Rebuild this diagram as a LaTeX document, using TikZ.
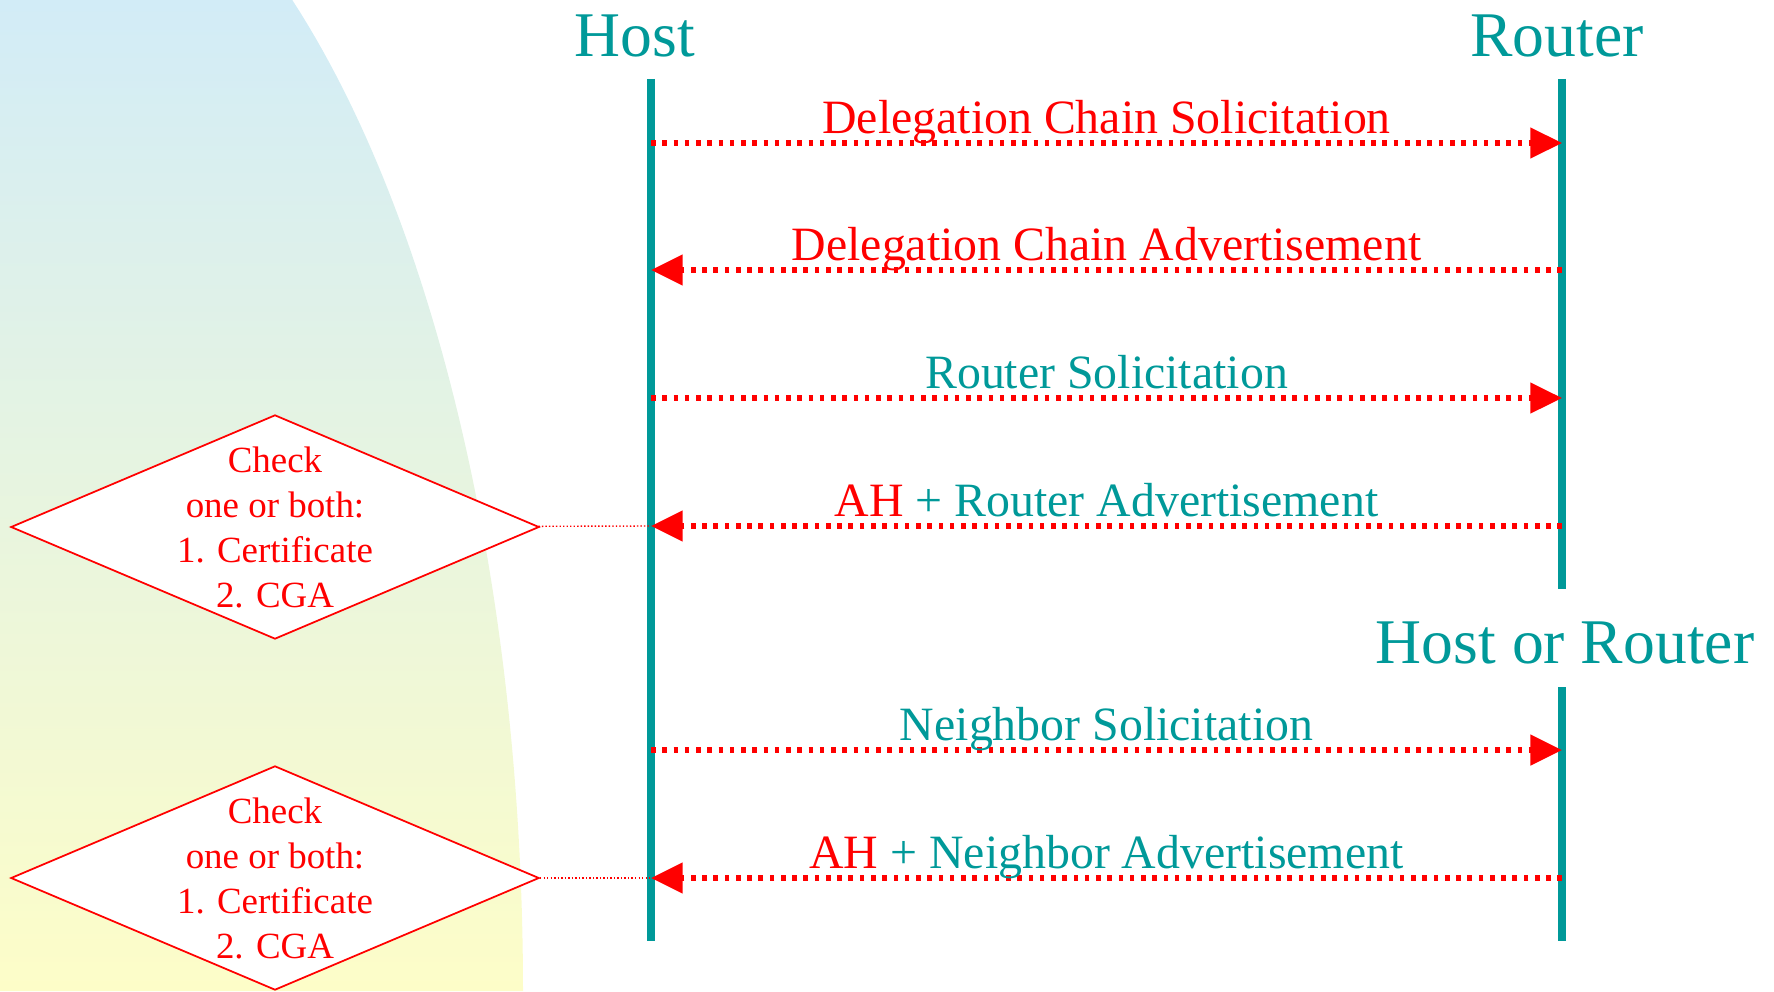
\documentclass[tikz,border=0pt]{standalone}
\usepackage{fontspec}
\setmainfont{Liberation Serif}
\usetikzlibrary{arrows.meta,shapes.geometric,calc}
\definecolor{lifeteal}{RGB}{0,153,153}
\definecolor{bgblue}{RGB}{210,236,247}
\definecolor{bgyellow}{RGB}{253,253,200}
\tikzset{
  lifeline/.style={line width=2.1pt,lifeteal},
  party/.style={lifeteal,anchor=base,font=\fontsize{18.1}{22}\selectfont},
  msg/.style={red,line width=1.45pt,dash pattern=on 1.3pt off 1.9pt,-{Triangle[length=9pt,width=8.5pt]}},
  msgtxt/.style={anchor=base,yshift=2.8pt,font=\fontsize{13.6}{16}\selectfont},
  check/.style={diamond,draw=red,fill=white,line width=0.5pt,minimum width=5.28cm,minimum height=2.24cm,inner sep=0pt},
  checktxt/.style={red,align=center,font=\fontsize{10.5}{12.8}\selectfont},
  tie/.style={red,line width=0.4pt,dash pattern=on 0.4pt off 0.6pt}
}
\begin{document}
\begin{tikzpicture}[x=0.01cm,y=-0.01cm]
\useasboundingbox (0,0) rectangle (1774,991);
%backdrop
\shade[top color=bgblue,bottom color=bgyellow] (0,0) -- plot[domain=0:991,samples=80] ({523*sqrt(1-((991-\x)/1195)^2)},\x) -- (0,991) -- cycle;
%lifelines
\coordinate (hosttop) at (651,79);
\coordinate (hostbot) at (651,941);
\coordinate (rtrtop) at (1562,79);
\coordinate (rtrbot) at (1562,589);
\coordinate (anytop) at (1562,687);
\coordinate (anybot) at (1562,941);
\draw[lifeline] (hosttop) -- (hostbot);
\draw[lifeline] (rtrtop) -- (rtrbot);
\draw[lifeline] (anytop) -- (anybot);
\node[party] (host) at (635,57) {Host};
\node[party] (rtr) at (1557,57) {Router};
\node[party] (any) at (1565,663) {Host or Router};
%messages
\foreach \i/\y in {1/143,2/270,3/398,4/526,5/750,6/878}{
  \coordinate (h\i) at (651,\y);
  \coordinate (r\i) at (1562,\y);
}
%checks
\node[check] (chk1) at (275,527) {};
\node[checktxt] (chk1txt) at (chk1) {Check\\one or both:\\1. Certificate\\2. CGA};
\node[check] (chk2) at (275,878) {};
\node[checktxt] (chk2txt) at (chk2) {Check\\one or both:\\1. Certificate\\2. CGA};
\draw[tie] (chk1) -- (h4);
\draw[tie] (chk2) -- (h6);
\draw[msg] (h1) -- node[msgtxt,red]{Delegation Chain Solicitation} (r1);
\draw[msg] (r2) -- node[msgtxt,red]{Delegation Chain Advertisement} (h2);
\draw[msg] (h3) -- node[msgtxt,lifeteal]{Router Solicitation} (r3);
\draw[msg] (r4) -- node[msgtxt,lifeteal]{\textcolor{red}{AH} + Router Advertisement} (h4);
\draw[msg] (h5) -- node[msgtxt,lifeteal]{Neighbor Solicitation} (r5);
\draw[msg] (r6) -- node[msgtxt,lifeteal]{\textcolor{red}{AH} + Neighbor Advertisement} (h6);
\end{tikzpicture}
\end{document}
